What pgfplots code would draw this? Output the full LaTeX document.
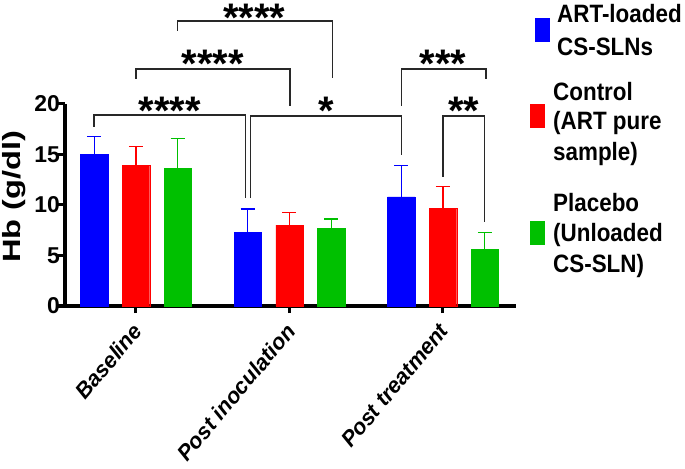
\documentclass[border=0pt]{standalone}
\usepackage{fontspec}
\setmainfont{Liberation Sans}
\usepackage{graphicx}
\usepackage{pgfplots}
\pgfplotsset{compat=1.18}
\definecolor{cblue}{RGB}{0,0,255}
\definecolor{cred}{RGB}{255,0,0}
\definecolor{cgreen}{RGB}{0,192,0}
\definecolor{brk}{RGB}{40,40,40}
\newcommand{\stars}[1]{\fontsize{40}{40}\selectfont\bfseries #1}
\newcommand{\legline}[2]{\rule{0pt}{#1bp}\scalebox{1}[1.12]{#2}}
\begin{document}
\begin{tikzpicture}
\useasboundingbox (0,0) rectangle (685bp,469bp);
\begin{axis}[
  at={(65bp,163bp)}, anchor=south west,
  scale only axis, width=451bp, height=202bp,
  xmin=-0.4625, xmax=2.4756, ymin=0, ymax=20,
  axis lines*=left,
  axis line style={line width=3bp, black},
  tick align=outside,
  major tick length=7bp,
  tick style={line width=3bp, black},
  ytick={0,5,10,15,20},
  xtick={0,1,2},
  xticklabels={Baseline, Post inoculation, Post treatment},
  x tick label style={xshift=-5bp, yshift=-7bp, rotate=50, anchor=north east, inner sep=1bp,
    font=\fontsize{22}{26}\selectfont\bfseries\itshape},
  y tick label style={xshift=3bp, inner sep=1bp, font=\fontsize{23}{26}\selectfont\bfseries},
  /pgf/number format/assume math mode=true,
  clip=false,
  ybar, bar width=0.179,
  legend cell align=left,
  legend style={at={(rel axis cs:1.031,1.51)}, anchor=north west, draw=none, fill=none,
    inner sep=0pt, nodes={inner sep=0pt},
    font=\fontsize{22.5}{29}\selectfont\bfseries, row sep=0pt,
    /tikz/every odd column/.append style={column sep=9bp}},
]
\addplot[fill=cblue, draw=cblue, bar shift=-0.272,
  legend image code/.code={\path[draw=none,fill=none] (0bp,0bp) -- (14bp,0bp); \fill[cblue, overlay] (5bp,-28.5bp) rectangle (19bp,-5.5bp);},
  error bars/.cd, y dir=plus, y explicit, error mark=-,
  error bar style={cblue, line width=1.3bp},
  error mark options={cblue, line width=1.3bp, mark size=7bp, rotate=90}]
  coordinates {(0,15.0) +- (0,1.8) (1,7.3) +- (0,2.3) (2,10.8) +- (0,3.1)};
\addlegendentry{\legline{21}{\hspace{4bp}ART-loaded}}
\addlegendimage{empty legend}
\addlegendentry{\legline{32}{\hspace{4bp}CS-SLNs}}
\addlegendimage{empty legend}
\addlegendentry{\legline{43}{Control}}
\addplot[fill=cred, draw=cred, bar shift=0,
  legend image code/.code={\path[draw=none,fill=none] (0bp,0bp) -- (14bp,0bp); \fill[cred, overlay] (0bp,-11bp) rectangle (14bp,12bp);},
  error bars/.cd, y dir=plus, y explicit, error mark=-,
  error bar style={cred, line width=1.3bp},
  error mark options={cred, line width=1.3bp, mark size=7bp, rotate=90}]
  coordinates {(0,13.9) +- (0,1.9) (1,8.0) +- (0,1.25) (2,9.7) +- (0,2.1)};
\addlegendentry{\legline{28}{(ART pure}}
\addlegendimage{empty legend}
\addlegendentry{\legline{29}{sample)}}
\addlegendimage{empty legend}
\addlegendentry{\legline{50}{Placebo}}
\addplot[fill=cgreen, draw=cgreen, bar shift=0.272,
  legend image code/.code={\path[draw=none,fill=none] (0bp,0bp) -- (14bp,0bp); \fill[cgreen, overlay] (0bp,-16bp) rectangle (14bp,7bp);},
  error bars/.cd, y dir=plus, y explicit, error mark=-,
  error bar style={cgreen, line width=1.3bp},
  error mark options={cgreen, line width=1.3bp, mark size=7bp, rotate=90}]
  coordinates {(0,13.6) +- (0,3.0) (1,7.7) +- (0,0.9) (2,5.6) +- (0,1.7)};
\addlegendentry{\legline{28}{(Unloaded}}
\addlegendimage{empty legend}
\addlegendentry{\legline{30}{CS-SLN)}}
% y axis title
\node[rotate=90, anchor=center, inner sep=0pt, font=\fontsize{25}{28}\selectfont\bfseries]
  at (rel axis cs:-0.113,0.542) {\scalebox{1.31}[1]{Hb (g/dl)}};
% significance brackets
\draw[brk, line width=1.3bp] (axis cs:-0.2736,17.75) |- (axis cs:0.7147,18.91) -- (axis cs:0.7147,10.69);
\draw[brk, line width=1.3bp] (axis cs:0.747,10.69) |- (axis cs:1.731,18.81) -- (axis cs:1.731,14.95);
\draw[brk, line width=1.3bp] (axis cs:0,22.48) |- (axis cs:1.003,23.47) -- (axis cs:1.003,19.83);
\draw[brk, line width=1.3bp] (axis cs:0.272,27.26) |- (axis cs:1.279,28.22) -- (axis cs:1.279,22.57);
\draw[brk, line width=1.3bp] (axis cs:1.728,19.85) |- (axis cs:2.28,23.47) -- (axis cs:2.28,22.52);
\draw[brk, line width=1.3bp] (axis cs:2.0,12.8) |- (axis cs:2.272,18.81) -- (axis cs:2.272,8.29);
\node[anchor=north, inner sep=0] at (axis cs:0.2215,20.69) {\stars{****}};
\node[anchor=north, inner sep=0] at (axis cs:1.238,20.69) {\stars{*}};
\node[anchor=north, inner sep=0] at (axis cs:0.5,25.35) {\stars{****}};
\node[anchor=north, inner sep=0] at (axis cs:0.772,29.9) {\stars{****}};
\node[anchor=north, inner sep=0] at (axis cs:2.0,25.35) {\stars{***}};
\node[anchor=north, inner sep=0] at (axis cs:2.136,20.69) {\stars{**}};
\end{axis}
\end{tikzpicture}
\end{document}
